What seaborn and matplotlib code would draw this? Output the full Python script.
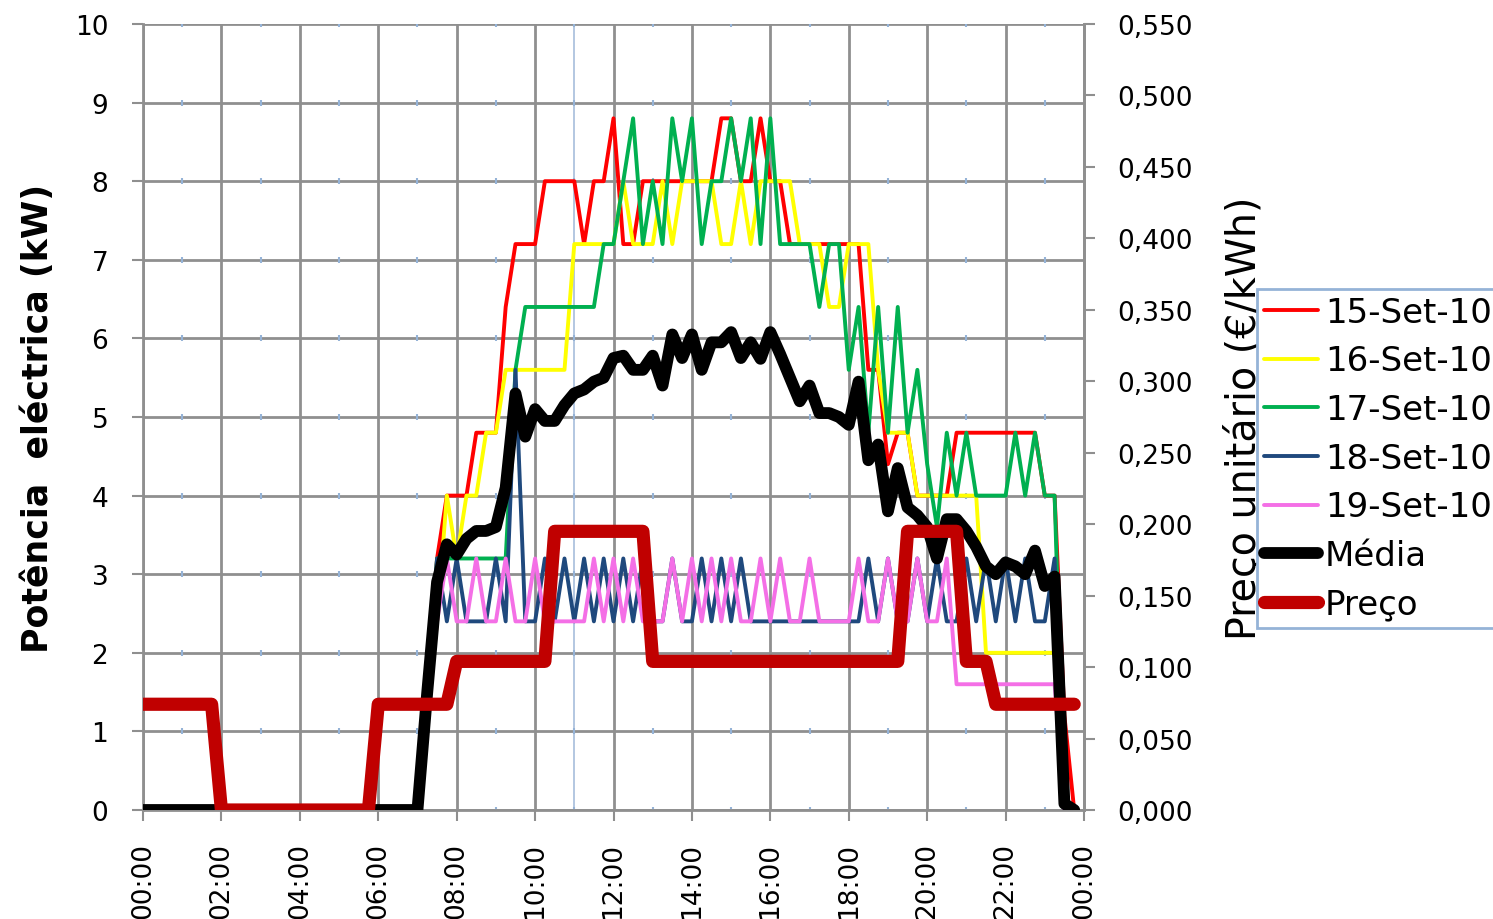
import numpy as np
import pandas as pd
import matplotlib
matplotlib.use("Agg")
import matplotlib.pyplot as plt
import seaborn as sns

# ---------------- data (15-minute samples, 00:00 .. 23:45) ----------------
hours = np.arange(96) * 0.25

set15 = [0, 0, 0, 0, 0, 0, 0, 0, 0, 0, 0, 0, 0, 0, 0, 0, 0, 0, 0, 0,
         0, 0, 0, 0, 0, 0, 0, 0, 0, 1.6, 3.2, 4.0, 4.0, 4.0, 4.8, 4.8, 4.8, 6.4, 7.2, 7.2,
         7.2, 8.0, 8.0, 8.0, 8.0, 7.2, 8.0, 8.0, 8.8, 7.2, 7.2, 8.0, 8.0, 8.0, 8.0, 8.0, 8.0, 8.0, 8.0, 8.8,
         8.8, 8.0, 8.0, 8.8, 8.0, 8.0, 7.2, 7.2, 7.2, 7.2, 7.2, 7.2, 7.2, 7.2, 5.6, 5.6, 4.4, 4.8, 4.8, 4.0,
         4.0, 4.0, 4.0, 4.8, 4.8, 4.8, 4.8, 4.8, 4.8, 4.8, 4.8, 4.8, 4.0, 4.0, 1.2, 0]

set16 = [0, 0, 0, 0, 0, 0, 0, 0, 0, 0, 0, 0, 0, 0, 0, 0, 0, 0, 0, 0,
         0, 0, 0, 0, 0, 0, 0, 0, 0, 1.2, 2.4, 4.0, 3.2, 4.0, 4.0, 4.8, 4.8, 5.6, 5.6, 5.6,
         5.6, 5.6, 5.6, 5.6, 7.2, 7.2, 7.2, 7.2, 7.2, 8.0, 7.2, 7.2, 7.2, 8.0, 7.2, 8.0, 8.0, 8.0, 8.0, 7.2,
         7.2, 8.0, 7.2, 8.0, 8.0, 8.0, 8.0, 7.2, 7.2, 7.2, 6.4, 6.4, 7.2, 7.2, 7.2, 5.6, 4.8, 4.8, 4.8, 4.0,
         4.0, 4.0, 4.0, 4.0, 4.0, 4.0, 2.0, 2.0, 2.0, 2.0, 2.0, 2.0, 2.0, 2.0, 0, 0]

set17 = [0, 0, 0, 0, 0, 0, 0, 0, 0, 0, 0, 0, 0, 0, 0, 0, 0, 0, 0, 0,
         0, 0, 0, 0, 0, 0, 0, 0, 0, 1.6, 3.2, 3.2, 3.2, 3.2, 3.2, 3.2, 3.2, 3.2, 5.6, 6.4,
         6.4, 6.4, 6.4, 6.4, 6.4, 6.4, 6.4, 7.2, 7.2, 8.0, 8.8, 7.2, 8.0, 7.2, 8.8, 8.0, 8.8, 7.2, 8.0, 8.0,
         8.8, 8.0, 8.8, 7.2, 8.8, 7.2, 7.2, 7.2, 7.2, 6.4, 7.2, 7.2, 5.6, 6.4, 4.8, 6.4, 4.8, 6.4, 4.8, 5.6,
         4.4, 3.6, 4.8, 4.0, 4.8, 4.0, 4.0, 4.0, 4.0, 4.8, 4.0, 4.8, 4.0, 4.0, 0, 0]

set18 = [0, 0, 0, 0, 0, 0, 0, 0, 0, 0, 0, 0, 0, 0, 0, 0, 0, 0, 0, 0,
         0, 0, 0, 0, 0, 0, 0, 0, 0, 1.6, 3.2, 2.4, 3.2, 2.4, 2.4, 2.4, 3.2, 2.4, 5.6, 2.4,
         2.4, 3.2, 2.4, 3.2, 2.4, 3.2, 2.4, 3.2, 2.4, 3.2, 2.4, 3.2, 2.4, 2.4, 3.2, 2.4, 2.4, 3.2, 2.4, 3.2,
         2.4, 3.2, 2.4, 2.4, 2.4, 2.4, 2.4, 2.4, 2.4, 2.4, 2.4, 2.4, 2.4, 2.4, 3.2, 2.4, 3.2, 2.4, 2.4, 3.2,
         2.4, 3.2, 2.4, 2.4, 3.2, 2.4, 3.2, 2.4, 3.2, 2.4, 3.2, 2.4, 2.4, 3.2, 0, 0]

set19 = [0, 0, 0, 0, 0, 0, 0, 0, 0, 0, 0, 0, 0, 0, 0, 0, 0, 0, 0, 0,
         0, 0, 0, 0, 0, 0, 0, 0, 0, 1.2, 2.4, 3.2, 2.4, 2.4, 3.2, 2.4, 2.4, 3.2, 2.4, 2.4,
         3.2, 2.4, 2.4, 2.4, 2.4, 2.4, 3.2, 2.4, 3.2, 2.4, 3.2, 2.4, 2.4, 2.4, 3.2, 2.4, 3.2, 2.4, 3.2, 2.4,
         3.2, 2.4, 2.4, 3.2, 2.4, 3.2, 2.4, 2.4, 3.2, 2.4, 2.4, 2.4, 2.4, 3.2, 2.4, 2.4, 3.2, 2.4, 2.4, 3.2,
         2.4, 2.4, 3.2, 1.6, 1.6, 1.6, 1.6, 1.6, 1.6, 1.6, 1.6, 1.6, 1.6, 1.6, 0, 0]

media = [0, 0, 0, 0, 0, 0, 0, 0, 0, 0, 0, 0, 0, 0, 0, 0, 0, 0, 0, 0,
         0, 0, 0, 0, 0, 0, 0, 0, 0, 1.5, 2.9, 3.38, 3.25, 3.45, 3.55, 3.55, 3.6, 4.1, 5.3, 4.75,
         5.1, 4.95, 4.95, 5.15, 5.3, 5.35, 5.45, 5.5, 5.75, 5.78, 5.6, 5.6, 5.78, 5.4, 6.05, 5.75, 6.05, 5.6, 5.95, 5.95,
         6.08, 5.75, 5.95, 5.74, 6.08, 5.8, 5.5, 5.2, 5.4, 5.05, 5.05, 5.0, 4.9, 5.45, 4.45, 4.65, 3.8, 4.35, 3.85, 3.75,
         3.6, 3.2, 3.7, 3.7, 3.55, 3.35, 3.1, 3.0, 3.15, 3.1, 3.0, 3.3, 2.85, 2.97, 0.08, 0]

preco = [0.074, 0.074, 0.074, 0.074, 0.074, 0.074, 0.074, 0.074, 0, 0, 0, 0, 0, 0, 0, 0, 0, 0, 0, 0,
         0, 0, 0, 0, 0.074, 0.074, 0.074, 0.074, 0.074, 0.074, 0.074, 0.074, 0.104, 0.104, 0.104, 0.104, 0.104, 0.104, 0.104, 0.104,
         0.104, 0.104, 0.195, 0.195, 0.195, 0.195, 0.195, 0.195, 0.195, 0.195, 0.195, 0.195, 0.104, 0.104, 0.104, 0.104, 0.104, 0.104, 0.104, 0.104,
         0.104, 0.104, 0.104, 0.104, 0.104, 0.104, 0.104, 0.104, 0.104, 0.104, 0.104, 0.104, 0.104, 0.104, 0.104, 0.104, 0.104, 0.104, 0.195, 0.195,
         0.195, 0.195, 0.195, 0.195, 0.104, 0.104, 0.104, 0.074, 0.074, 0.074, 0.074, 0.074, 0.074, 0.074, 0.074, 0.074]

series_labels = ["15-Set-10", "16-Set-10", "17-Set-10", "18-Set-10", "19-Set-10", "Média"]
series_values = [set15, set16, set17, set18, set19, media]
series_colors = ["#FF0000", "#FFFF00", "#00B050", "#1F497D", "#F46FE6", "#000000"]
series_widths = [2.8, 2.8, 2.8, 2.8, 2.8, 8.5]
price_label = "Preço"
price_color = "#C00000"

x_ticks = [0, 2, 4, 6, 8, 10, 12, 14, 16, 18, 20, 22, 24]
x_ticklabels = ["00:00", "02:00", "04:00", "06:00", "08:00", "10:00", "12:00",
                "14:00", "16:00", "18:00", "20:00", "22:00", "00:00"]
y_ticks = [0, 1, 2, 3, 4, 5, 6, 7, 8, 9, 10]
y2_ticks = [0, 0.05, 0.10, 0.15, 0.20, 0.25, 0.30, 0.35, 0.40, 0.45, 0.50, 0.55]
y2_ticklabels = ["0,000", "0,050", "0,100", "0,150", "0,200", "0,250", "0,300",
                 "0,350", "0,400", "0,450", "0,500", "0,550"]

# ---------------- style ----------------
sns.set_theme(style="white")
plt.rcParams["font.family"] = ["DejaVu Sans"]
plt.rcParams["text.color"] = "black"
plt.rcParams["axes.labelcolor"] = "black"
plt.rcParams["xtick.color"] = "black"
plt.rcParams["ytick.color"] = "black"
plt.rcParams["lines.solid_joinstyle"] = "round"
plt.rcParams["lines.solid_capstyle"] = "round"

W, H = 1493, 920
fig = plt.figure(figsize=(W / 100, H / 100), dpi=100)
L, R, T, B = 143, 1084, 25, 811
ax = fig.add_axes([L / W, 1 - B / H, (R - L) / W, (B - T) / H])

grid_c = "#8F8F8F"
handles = []
for lab, vals, col, lw in zip(series_labels, series_values, series_colors, series_widths):
    df = pd.DataFrame({"hora": hours, "kW": vals})
    sns.lineplot(data=df, x="hora", y="kW", ax=ax, color=col, linewidth=lw,
                 label=lab, legend=False, zorder=3)
    handles.append(ax.lines[-1])

ax.set_xlim(0, 24)
ax.set_ylim(0, 10)
ax.set_xticks(x_ticks)
ax.set_xticklabels(x_ticklabels)
ax.set_yticks(y_ticks)
ax.set_yticklabels([str(v) for v in y_ticks])
ax.grid(True, color=grid_c, linewidth=2.0)
ax.set_axisbelow(True)
# faint secondary-axis artefacts of the original chart
ax.axvline(11, color="#A7BEDC", linewidth=1.2, zorder=1)
minor_x = np.arange(1, 24, 2)
for yv in y_ticks:
    ax.plot(minor_x, np.full(minor_x.shape, yv), ls="none", marker="|",
            ms=5, mew=1.5, color="#95B3D7", zorder=1)

ax.spines["top"].set_visible(False)
for s in ["left", "bottom", "right"]:
    ax.spines[s].set_color(grid_c)
    ax.spines[s].set_linewidth(2.0)

ax.tick_params(axis="y", length=8, width=1.5, color=grid_c, labelcolor="black",
               pad=17, labelsize=19, left=True)
ax.tick_params(axis="x", length=8, width=1.5, color=grid_c, labelcolor="black",
               pad=15, labelsize=19, labelrotation=90, bottom=True)
ax.set_xlabel("")
ax.set_ylabel("Potência  eléctrica (kW)", fontsize=25, fontweight="bold", va="center",
              color="black")
ax.yaxis.set_label_coords((38 - L) / (R - L), 0.5)

ax2 = ax.twinx()
dfp = pd.DataFrame({"hora": hours, "preco": preco})
sns.lineplot(data=dfp, x="hora", y="preco", ax=ax2, color=price_color, linewidth=9.5,
             label=price_label, legend=False)
handles.append(ax2.lines[-1])
ax2.set_ylim(0, 0.55)
ax2.set_yticks(y2_ticks)
ax2.set_yticklabels(y2_ticklabels)
ax2.grid(False)
for s in ["top", "left", "bottom"]:
    ax2.spines[s].set_visible(False)
ax2.spines["right"].set_color(grid_c)
ax2.spines["right"].set_linewidth(2.0)
ax2.tick_params(axis="y", length=8, width=1.5, color=grid_c, labelcolor="black",
                pad=16, labelsize=19, right=True)
ax2.set_ylabel("Preço unitário (€/kWh)", fontsize=28.5, va="center", color="black")
ax2.yaxis.set_label_coords((1245 - L) / (R - L), 0.5)

leg = fig.legend(handles, [h.get_label() for h in handles], loc="upper left",
                 bbox_to_anchor=(1257 / W, 1 - 290 / H), fontsize=24.5,
                 frameon=True, fancybox=False, borderaxespad=0, borderpad=0.2,
                 handlelength=1.6, handletextpad=0.2, labelspacing=0.46)
leg.get_frame().set_edgecolor("#95B3D7")
leg.get_frame().set_linewidth(2.0)
leg.get_frame().set_alpha(1)
for t in leg.get_texts():
    t.set_color("black")

fig.savefig("out.png", dpi=100)
